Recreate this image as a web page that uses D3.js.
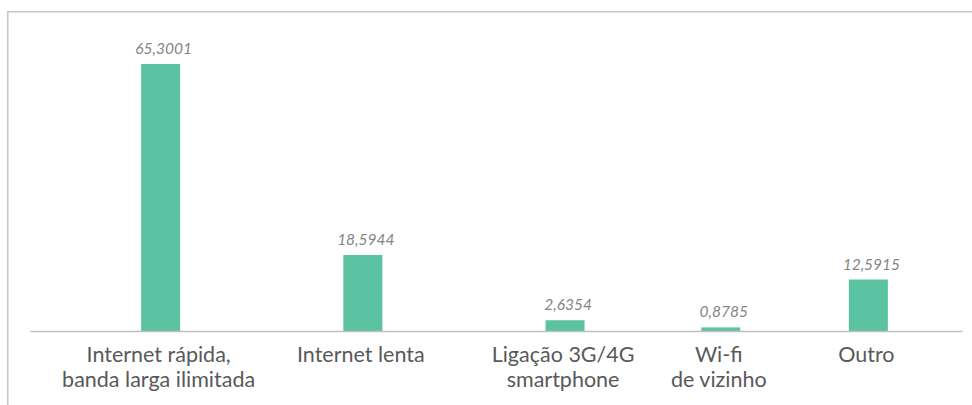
<!DOCTYPE html>
<html>
<head>
<meta charset="utf-8">
<script src="https://cdn.jsdelivr.net/npm/d3@7"></script>
<style>
  html, body { margin: 0; padding: 0; background: #ffffff; }
  svg { display: block; }
</style>
</head>
<body>
<svg id="chart" width="972" height="405"></svg>
<script>
// Tipo de ligação à internet (%)
const categories = ["rapida", "lenta", "movel", "wifi", "outro"];
const categoryLines = [
  ["Internet rápida,", "banda larga ilimitada"],
  ["Internet lenta"],
  ["Ligação 3G/4G", "smartphone"],
  ["Wi-fi", "de vizinho"],
  ["Outro"]
];
const values = [65.3001, 18.5944, 2.6354, 0.8785, 12.5915];
const valueLabels = ["65,3001", "18,5944", "2,6354", "0,8785", "12,5915"];

// Horizontal slot of each category along the axis (last groups sit closer)
const slot = { rapida: 0, lenta: 1, movel: 2, wifi: 2.77, outro: 3.5 };

const width = 972, height = 405;
const svg = d3.select("#chart");

const plot = { left: 30, right: 962, base: 331 };

const x = d3.scaleLinear()
  .domain([-0.646, 3.963])
  .range([plot.left, plot.right]);

const y = d3.scaleLinear()
  .domain([0, 70])
  .range([plot.base, plot.base - 70 * 4.089]);

const barWidth = 39;
const barColor = "#5cc3a2";

// Frame (open on the right and bottom edges of the canvas)
svg.append("rect")
  .attr("x", 7.75)
  .attr("y", 11.75)
  .attr("width", 1100)
  .attr("height", 600)
  .attr("fill", "none")
  .attr("stroke", "#c6c6c6")
  .attr("stroke-width", 1.5);

const data = categories.map((c, i) => ({
  key: c, value: values[i], label: valueLabels[i], lines: categoryLines[i]
}));

// Bars
svg.append("g")
  .selectAll("rect")
  .data(data)
  .join("rect")
  .attr("x", d => x(slot[d.key]) - barWidth / 2)
  .attr("y", d => y(d.value))
  .attr("width", barWidth)
  .attr("height", d => y(0) - y(d.value))
  .attr("fill", barColor);

// Baseline axis
const axis = d3.axisBottom(x).tickValues([]).tickSize(0).tickSizeOuter(0);
const axisG = svg.append("g")
  .attr("transform", `translate(0,${plot.base})`)
  .call(axis);
axisG.select(".domain").attr("stroke", "#bfbfbf").attr("stroke-width", 1.5);

// Value labels
svg.append("g")
  .selectAll("text")
  .data(data)
  .join("text")
  .attr("x", d => x(slot[d.key]) + 3)
  .attr("y", d => y(d.value) - 10)
  .attr("text-anchor", "middle")
  .attr("font-family", "Lato, 'Open Sans', sans-serif")
  .attr("font-style", "italic")
  .attr("font-weight", 400)
  .attr("font-size", 15.5)
  .attr("fill", "#858585")
  .text(d => d.label);

// Category labels
const catG = svg.append("g")
  .selectAll("text")
  .data(data)
  .join("text")
  .attr("text-anchor", "middle")
  .attr("font-family", "Lato, 'Open Sans', sans-serif")
  .attr("font-size", 21.5)
  .attr("fill", "#595959");

catG.selectAll("tspan")
  .data(d => d.lines.map(l => ({ line: l, key: d.key })))
  .join("tspan")
  .attr("x", d => x(slot[d.key]) - 2)
  .attr("y", (d, i) => 361.5 + i * 25.5)
  .text(d => d.line);
</script>
</body>
</html>
